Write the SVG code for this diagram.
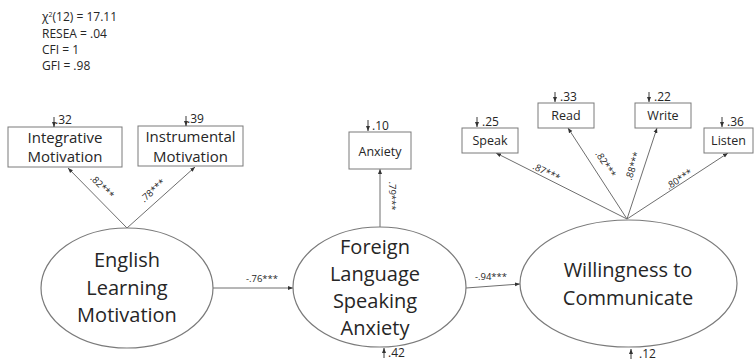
<svg xmlns="http://www.w3.org/2000/svg" width="755" height="361" viewBox="0 0 755 361">
  <style>
    text { font-family: "Open Sans", "Liberation Sans", sans-serif; fill: #262626; }
    .stat { font-size: 12px; }
    .latent { font-size: 20px; text-anchor: middle; }
    .box { fill: #ffffff; stroke: #7a7a7a; stroke-width: 1; }
    .oval { fill: #ffffff; stroke: #7a7a7a; stroke-width: 1.2; }
    .obs { font-size: 15px; text-anchor: middle; }
    .obs-s { font-size: 12.5px; text-anchor: middle; }
    .err { font-size: 12px; }
    .coef { font-size: 9.5px; text-anchor: middle; }
    .edge { stroke: #6e6e6e; stroke-width: 1; fill: none; marker-end: url(#arr); }
    .eline { stroke: #3a3a3a; stroke-width: 1; fill: none; marker-end: url(#arr); }
  </style>
  <defs>
    <marker id="arr" viewBox="0 0 10 10" refX="10" refY="5" markerWidth="5" markerHeight="5" orient="auto" markerUnits="userSpaceOnUse">
      <path d="M0,1 L10,5 L0,9 z" fill="#333333"/>
    </marker>
  </defs>

  <!-- fit statistics -->
  <g id="fit">
    <text class="stat" x="42" y="21">χ<tspan font-size="7" dy="-4">2</tspan><tspan dy="4">(12) = 17.11</tspan></text>
    <text class="stat" x="42" y="38">RESEA = .04</text>
    <text class="stat" x="42" y="54">CFI = 1</text>
    <text class="stat" x="42" y="70">GFI = .98</text>
  </g>

  <!-- connectors -->
  <g id="connectors">
    <line class="edge" x1="127" y1="228" x2="68" y2="168"/>
    <line class="edge" x1="127" y1="228" x2="195" y2="167"/>
    <line class="edge" x1="213" y1="288" x2="293" y2="288"/>
    <line class="edge" x1="380" y1="227" x2="380" y2="169"/>
    <line class="edge" x1="466" y1="288" x2="520" y2="284"/>
    <line class="edge" x1="627" y1="219" x2="496" y2="153"/>
    <line class="edge" x1="627" y1="219" x2="568" y2="128"/>
    <line class="edge" x1="627" y1="219" x2="657" y2="128"/>
    <line class="edge" x1="627" y1="219" x2="728" y2="153"/>

    <text class="coef" transform="translate(100,189) rotate(45)">.82***</text>
    <text class="coef" transform="translate(155,193) rotate(-42)">.78***</text>
    <text class="coef" x="262" y="282">-.76***</text>
    <text class="coef" transform="translate(389,196) rotate(90)">.79***</text>
    <text class="coef" x="491" y="280">-.94***</text>
    <text class="coef" transform="translate(545,175) rotate(26.5)">.87***</text>
    <text class="coef" transform="translate(603,166) rotate(57)">.82***</text>
    <text class="coef" transform="translate(636,167) rotate(-72)">.88***</text>
    <text class="coef" transform="translate(681,182) rotate(-33)">.80***</text>
  </g>

  <!-- latent: English Learning Motivation -->
  <g id="elm">
    <ellipse class="oval" cx="127" cy="288" rx="86" ry="60"/>
    <text class="latent" x="127" y="267">English</text>
    <text class="latent" x="127" y="295">Learning</text>
    <text class="latent" x="127" y="322">Motivation</text>
  </g>

  <!-- latent: Foreign Language Speaking Anxiety -->
  <g id="flsa">
    <ellipse class="oval" cx="379.5" cy="287" rx="86.5" ry="60"/>
    <text class="latent" x="375" y="254">Foreign</text>
    <text class="latent" x="375" y="281">Language</text>
    <text class="latent" x="375" y="308">Speaking</text>
    <text class="latent" x="375" y="335">Anxiety</text>
    <line class="eline" x1="384" y1="358" x2="384" y2="348"/>
    <text class="err" x="388" y="357">.42</text>
  </g>

  <!-- latent: Willingness to Communicate -->
  <g id="wtc">
    <ellipse class="oval" cx="628.5" cy="283.5" rx="108.5" ry="63.5"/>
    <text class="latent" x="628" y="277" font-size="21">Willingness to</text>
    <text class="latent" x="628" y="305" font-size="21">Communicate</text>
    <line class="eline" x1="631" y1="359" x2="631" y2="349"/>
    <text class="err" x="639" y="358">.12</text>
  </g>

  <!-- observed: Integrative Motivation -->
  <g id="integrative">
    <rect class="box" x="8" y="127" width="114" height="40"/>
    <text class="obs" x="65" y="143">Integrative</text>
    <text class="obs" x="65" y="162">Motivation</text>
    <line class="eline" x1="54" y1="117" x2="54" y2="127"/>
    <text class="err" x="55" y="124">.32</text>
  </g>

  <!-- observed: Instrumental Motivation -->
  <g id="instrumental">
    <rect class="box" x="138" y="126" width="105" height="40"/>
    <text class="obs" x="190.5" y="142">Instrumental</text>
    <text class="obs" x="190.5" y="162">Motivation</text>
    <line class="eline" x1="186" y1="116" x2="186" y2="126"/>
    <text class="err" x="187" y="123">.39</text>
  </g>

  <!-- observed: Anxiety -->
  <g id="anxiety">
    <rect class="box" x="349" y="132" width="62" height="37"/>
    <text class="obs-s" x="380" y="156">Anxiety</text>
    <line class="eline" x1="368" y1="120" x2="368" y2="131"/>
    <text class="err" x="372" y="130">.10</text>
  </g>

  <!-- observed: Speak -->
  <g id="speak">
    <rect class="box" x="462" y="128" width="56" height="25"/>
    <text class="obs-s" x="490" y="145">Speak</text>
    <line class="eline" x1="477" y1="117" x2="477" y2="127"/>
    <text class="err" x="482" y="126">.25</text>
  </g>

  <!-- observed: Read -->
  <g id="read">
    <rect class="box" x="538" y="103" width="56" height="25"/>
    <text class="obs-s" x="566" y="120">Read</text>
    <line class="eline" x1="555" y1="92" x2="555" y2="102"/>
    <text class="err" x="560" y="101">.33</text>
  </g>

  <!-- observed: Write -->
  <g id="write">
    <rect class="box" x="635" y="103" width="56" height="25"/>
    <text class="obs-s" x="663" y="120">Write</text>
    <line class="eline" x1="649" y1="92" x2="649" y2="102"/>
    <text class="err" x="654" y="101">.22</text>
  </g>

  <!-- observed: Listen -->
  <g id="listen">
    <rect class="box" x="704" y="128" width="49" height="25"/>
    <text class="obs-s" x="728.5" y="145">Listen</text>
    <line class="eline" x1="722" y1="117" x2="722" y2="127"/>
    <text class="err" x="727" y="126">.36</text>
  </g>
</svg>
